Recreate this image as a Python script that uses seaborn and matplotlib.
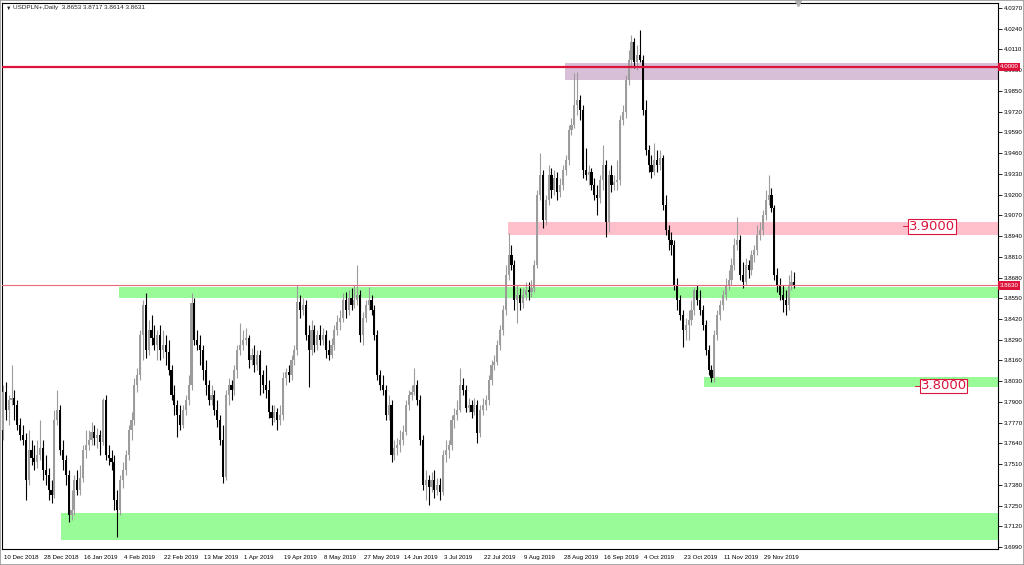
import matplotlib
matplotlib.use("Agg")
import matplotlib.pyplot as plt
import matplotlib.transforms as mtransforms
from matplotlib.patches import Rectangle
import numpy as np
import seaborn as sns

SYMBOL = "USDPLN+,Daily"

date_labels = [
    "10 Dec 2018", "28 Dec 2018", "16 Jan 2019", "4 Feb 2019", "22 Feb 2019",
    "13 Mar 2019", "1 Apr 2019", "19 Apr 2019", "8 May 2019", "27 May 2019",
    "14 Jun 2019", "3 Jul 2019", "22 Jul 2019", "9 Aug 2019", "28 Aug 2019",
    "16 Sep 2019", "4 Oct 2019", "23 Oct 2019", "11 Nov 2019", "29 Nov 2019",
]

# daily OHLC, one row of 14 bars per date label
opens = [
    3.7724, 3.7962, 3.7849, 3.7912, 3.7925, 3.7881, 3.7755, 3.7693, 3.7661, 3.7410, 3.7599, 3.7548, 3.7523, 3.7567,
    3.7611, 3.7473, 3.7442, 3.7348, 3.7316, 3.7787, 3.7849, 3.7599, 3.7536, 3.7442, 3.7191, 3.7222, 3.7410, 3.7348,
    3.7423, 3.7599, 3.7630, 3.7661, 3.7711, 3.7674, 3.7693, 3.7649, 3.7912, 3.7567, 3.7548, 3.7523, 3.7285, 3.7222,
    3.7410, 3.7473, 3.7567, 3.7724, 3.7787, 3.8006, 3.8069, 3.8320, 3.8508, 3.8226, 3.8351, 3.8301, 3.8257, 3.8320,
    3.8226, 3.8257, 3.8213, 3.8100, 3.7943, 3.7881, 3.7818, 3.7755, 3.7849, 3.7912, 3.8006, 3.8520, 3.8288, 3.8257,
    3.8226, 3.8100, 3.8006, 3.7912, 3.7943, 3.7849, 3.7787, 3.7661, 3.7429, 3.7943, 3.8006, 3.7975, 3.8100, 3.8226,
    3.8257, 3.8288, 3.8301, 3.8163, 3.8194, 3.8131, 3.8194, 3.8069, 3.8006, 3.7975, 3.7837, 3.7799, 3.7837, 3.7787,
    3.7818, 3.8050, 3.8088, 3.8069, 3.8163, 3.8226, 3.8526, 3.8476, 3.8508, 3.8320, 3.8226, 3.8351, 3.8257, 3.8320,
    3.8288, 3.8320, 3.8226, 3.8194, 3.8257, 3.8351, 3.8401, 3.8426, 3.8539, 3.8476, 3.8552, 3.8508, 3.8539, 3.8570,
    3.8320, 3.8426, 3.8508, 3.8539, 3.8476, 3.8320, 3.8069, 3.8006, 3.7975, 3.7818, 3.7881, 3.7567, 3.7611, 3.7630,
    3.7661, 3.7711, 3.7881, 3.7943, 3.7962, 3.8006, 3.7912, 3.7661, 3.7379, 3.7410, 3.7367, 3.7410, 3.7348, 3.7379,
    3.7335, 3.7567, 3.7599, 3.7630, 3.7787, 3.7818, 3.7849, 3.8006, 3.7975, 3.7862, 3.7881, 3.7837, 3.7881, 3.7705,
    3.7849, 3.7881, 3.7912, 3.8037, 3.8131, 3.8150, 3.8257, 3.8351, 3.8476, 3.8696, 3.8821, 3.8758, 3.8539, 3.8570,
    3.8520, 3.8570, 3.8602, 3.8589, 3.8614, 3.8758, 3.9197, 3.9323, 3.9041, 3.9166, 3.9323, 3.9229, 3.9304, 3.9216,
    3.9260, 3.9354, 3.9417, 3.9605, 3.9636, 3.9762, 3.9793, 3.9730, 3.9354, 3.9323, 3.9342, 3.9260, 3.9197, 3.9179,
    3.9291, 3.9385, 3.9028, 3.9323, 3.9260, 3.9279, 3.9291, 3.9668, 3.9718, 3.9918, 4.0044, 4.0157, 4.0031, 4.0075,
    4.0044, 3.9730, 3.9480, 3.9385, 3.9342, 3.9417, 3.9385, 3.9429, 3.9135, 3.8978, 3.8915, 3.8884, 3.8633, 3.8539,
    3.8445, 3.8351, 3.8382, 3.8414, 3.8476, 3.8602, 3.8539, 3.8476, 3.8382, 3.8226, 3.8100, 3.8050, 3.8320, 3.8445,
    3.8508, 3.8570, 3.8633, 3.8664, 3.8758, 3.8884, 3.8915, 3.8696, 3.8652, 3.8758, 3.8727, 3.8821, 3.8853, 3.8947,
    3.8978, 3.9072, 3.9166, 3.9197, 3.9116, 3.8696, 3.8633, 3.8570, 3.8539, 3.8508, 3.8633, 3.8653,
]
highs = [
    3.8006, 3.8025, 3.7943, 3.8131, 3.7975, 3.7912, 3.7799, 3.7755, 3.7705, 3.7724, 3.7661, 3.7630, 3.7661, 3.7787,
    3.7661, 3.7567, 3.7486, 3.7410, 3.7849, 3.7975, 3.7881, 3.7661, 3.7567, 3.7473, 3.7348, 3.7442, 3.7473, 3.7504,
    3.7630, 3.7724, 3.7724, 3.7774, 3.7755, 3.7736, 3.7724, 3.7925, 3.7943, 3.7630, 3.7599, 3.7567, 3.7348, 3.7442,
    3.7523, 3.7599, 3.7755, 3.7837, 3.8050, 3.8113, 3.8351, 3.8539, 3.8583, 3.8414, 3.8445, 3.8382, 3.8351, 3.8382,
    3.8351, 3.8320, 3.8288, 3.8131, 3.8006, 3.7912, 3.7881, 3.7881, 3.7943, 3.8069, 3.8583, 3.8552, 3.8351, 3.8320,
    3.8257, 3.8163, 3.8037, 3.8006, 3.7975, 3.7912, 3.7818, 3.7755, 3.7975, 3.8050, 3.8037, 3.8131, 3.8257, 3.8395,
    3.8351, 3.8363, 3.8320, 3.8238, 3.8257, 3.8226, 3.8226, 3.8100, 3.8131, 3.8037, 3.7881, 3.7881, 3.7862, 3.7881,
    3.8088, 3.8113, 3.8131, 3.8194, 3.8257, 3.8633, 3.8570, 3.8552, 3.8539, 3.8382, 3.8414, 3.8382, 3.8351, 3.8382,
    3.8363, 3.8351, 3.8288, 3.8301, 3.8382, 3.8445, 3.8476, 3.8583, 3.8589, 3.8602, 3.8614, 3.8633, 3.8758, 3.8602,
    3.8464, 3.8539, 3.8621, 3.8570, 3.8508, 3.8351, 3.8100, 3.8069, 3.8006, 3.7943, 3.7912, 3.7661, 3.7674, 3.7724,
    3.7755, 3.7912, 3.7975, 3.8006, 3.8113, 3.8037, 3.7943, 3.7693, 3.7473, 3.7442, 3.7461, 3.7473, 3.7423, 3.7423,
    3.7599, 3.7661, 3.7661, 3.7818, 3.7862, 3.7912, 3.8113, 3.8050, 3.8006, 3.7925, 3.7912, 3.7925, 3.7912, 3.7881,
    3.7925, 3.7943, 3.8069, 3.8163, 3.8194, 3.8288, 3.8382, 3.8508, 3.8758, 3.8959, 3.8884, 3.8790, 3.8633, 3.8614,
    3.8614, 3.8652, 3.8652, 3.8664, 3.8790, 3.9229, 3.9461, 3.9354, 3.9197, 3.9385, 3.9367, 3.9354, 3.9342, 3.9304,
    3.9385, 3.9448, 3.9636, 3.9680, 3.9962, 3.9969, 3.9824, 3.9762, 3.9492, 3.9385, 3.9367, 3.9304, 3.9260, 3.9323,
    3.9511, 3.9417, 3.9354, 3.9385, 3.9323, 3.9417, 3.9699, 3.9762, 3.9950, 4.0106, 4.0201, 4.0182, 4.0138, 4.0232,
    4.0075, 3.9793, 3.9511, 3.9448, 3.9523, 3.9480, 3.9480, 3.9448, 3.9197, 3.9009, 3.8965, 3.8915, 3.8677, 3.8570,
    3.8476, 3.8426, 3.8476, 3.8539, 3.8621, 3.8633, 3.8602, 3.8508, 3.8414, 3.8257, 3.8131, 3.8351, 3.8476, 3.8539,
    3.8602, 3.8677, 3.8727, 3.8802, 3.8928, 3.9059, 3.8947, 3.8777, 3.8802, 3.8790, 3.8853, 3.8884, 3.9009, 3.9028,
    3.9103, 3.9229, 3.9323, 3.9241, 3.9135, 3.8740, 3.8677, 3.8633, 3.8602, 3.8696, 3.8727, 3.8717,
]
lows = [
    3.7661, 3.7787, 3.7755, 3.7881, 3.7787, 3.7724, 3.7661, 3.7630, 3.7285, 3.7379, 3.7504, 3.7473, 3.7486, 3.7536,
    3.7410, 3.7379, 3.7285, 3.7266, 3.7298, 3.7755, 3.7567, 3.7473, 3.7379, 3.7147, 3.7160, 3.7191, 3.7316, 3.7316,
    3.7398, 3.7548, 3.7599, 3.7630, 3.7630, 3.7611, 3.7567, 3.7630, 3.7536, 3.7504, 3.7473, 3.7222, 3.7053, 3.7191,
    3.7360, 3.7442, 3.7536, 3.7661, 3.7755, 3.7962, 3.8037, 3.8163, 3.8175, 3.8194, 3.8257, 3.8226, 3.8163, 3.8163,
    3.8175, 3.8131, 3.8069, 3.7912, 3.7818, 3.7680, 3.7724, 3.7736, 3.7818, 3.7881, 3.7975, 3.8257, 3.8226, 3.8131,
    3.8037, 3.7943, 3.7881, 3.7881, 3.7818, 3.7743, 3.7630, 3.7392, 3.7410, 3.7881, 3.7912, 3.7943, 3.8050, 3.8194,
    3.8226, 3.8257, 3.8113, 3.8131, 3.8088, 3.8100, 3.7943, 3.7956, 3.7925, 3.7799, 3.7755, 3.7774, 3.7724, 3.7755,
    3.7787, 3.8006, 3.8025, 3.8037, 3.8131, 3.8194, 3.8426, 3.8445, 3.8288, 3.7994, 3.8194, 3.8213, 3.8226, 3.8257,
    3.8257, 3.8175, 3.8163, 3.8175, 3.8226, 3.8320, 3.8351, 3.8401, 3.8426, 3.8445, 3.8476, 3.8489, 3.8508, 3.8276,
    3.8257, 3.8401, 3.8476, 3.8445, 3.8288, 3.8037, 3.7975, 3.7943, 3.7787, 3.7787, 3.7523, 3.7536, 3.7567, 3.7586,
    3.7630, 3.7693, 3.7849, 3.7912, 3.7943, 3.7881, 3.7630, 3.7348, 3.7285, 3.7254, 3.7335, 3.7298, 3.7316, 3.7285,
    3.7316, 3.7523, 3.7548, 3.7599, 3.7736, 3.7787, 3.7837, 3.7943, 3.7837, 3.7837, 3.7799, 3.7818, 3.7642, 3.7680,
    3.7818, 3.7849, 3.7881, 3.8006, 3.8100, 3.8131, 3.8226, 3.8320, 3.8445, 3.8664, 3.8727, 3.8476, 3.8395, 3.8476,
    3.8489, 3.8539, 3.8539, 3.8558, 3.8589, 3.8740, 3.9166, 3.8990, 3.9009, 3.9135, 3.9179, 3.9197, 3.9166, 3.9185,
    3.9229, 3.9323, 3.9385, 3.9574, 3.9617, 3.9699, 3.9668, 3.9304, 3.9291, 3.9260, 3.9229, 3.9166, 3.9072, 3.9147,
    3.9229, 3.8934, 3.8965, 3.9216, 3.9229, 3.9229, 3.9260, 3.9636, 3.9680, 3.9887, 3.9994, 3.9994, 3.9981, 4.0031,
    3.9699, 3.9448, 3.9342, 3.9304, 3.9323, 3.9342, 3.9354, 3.9103, 3.8947, 3.8853, 3.8821, 3.8602, 3.8476, 3.8414,
    3.8244, 3.8288, 3.8288, 3.8382, 3.8445, 3.8508, 3.8445, 3.8351, 3.8194, 3.8069, 3.8025, 3.8025, 3.8288, 3.8414,
    3.8476, 3.8539, 3.8602, 3.8633, 3.8727, 3.8853, 3.8664, 3.8614, 3.8633, 3.8677, 3.8696, 3.8777, 3.8821, 3.8915,
    3.8947, 3.9041, 3.9135, 3.9091, 3.8664, 3.8589, 3.8539, 3.8464, 3.8445, 3.8476, 3.8602, 3.8614,
]
closes = [
    3.7962, 3.7849, 3.7912, 3.7925, 3.7881, 3.7755, 3.7693, 3.7661, 3.7410, 3.7599, 3.7548, 3.7523, 3.7567, 3.7611,
    3.7473, 3.7442, 3.7348, 3.7316, 3.7787, 3.7849, 3.7599, 3.7536, 3.7442, 3.7191, 3.7222, 3.7410, 3.7348, 3.7423,
    3.7599, 3.7630, 3.7661, 3.7711, 3.7674, 3.7693, 3.7649, 3.7912, 3.7567, 3.7548, 3.7523, 3.7285, 3.7222, 3.7410,
    3.7473, 3.7567, 3.7724, 3.7787, 3.8006, 3.8069, 3.8320, 3.8508, 3.8226, 3.8351, 3.8301, 3.8257, 3.8320, 3.8226,
    3.8257, 3.8213, 3.8100, 3.7943, 3.7881, 3.7818, 3.7755, 3.7849, 3.7912, 3.8006, 3.8520, 3.8288, 3.8257, 3.8226,
    3.8100, 3.8006, 3.7912, 3.7943, 3.7849, 3.7787, 3.7661, 3.7429, 3.7943, 3.8006, 3.7975, 3.8100, 3.8226, 3.8257,
    3.8288, 3.8301, 3.8163, 3.8194, 3.8131, 3.8194, 3.8069, 3.8006, 3.7975, 3.7837, 3.7799, 3.7837, 3.7787, 3.7818,
    3.8050, 3.8088, 3.8069, 3.8163, 3.8226, 3.8526, 3.8476, 3.8508, 3.8320, 3.8226, 3.8351, 3.8257, 3.8320, 3.8288,
    3.8320, 3.8226, 3.8194, 3.8257, 3.8351, 3.8401, 3.8426, 3.8539, 3.8476, 3.8552, 3.8508, 3.8539, 3.8570, 3.8320,
    3.8426, 3.8508, 3.8539, 3.8476, 3.8320, 3.8069, 3.8006, 3.7975, 3.7818, 3.7881, 3.7567, 3.7611, 3.7630, 3.7661,
    3.7711, 3.7881, 3.7943, 3.7962, 3.8006, 3.7912, 3.7661, 3.7379, 3.7410, 3.7367, 3.7410, 3.7348, 3.7379, 3.7335,
    3.7567, 3.7599, 3.7630, 3.7787, 3.7818, 3.7849, 3.8006, 3.7975, 3.7862, 3.7881, 3.7837, 3.7881, 3.7705, 3.7849,
    3.7881, 3.7912, 3.8037, 3.8131, 3.8150, 3.8257, 3.8351, 3.8476, 3.8696, 3.8821, 3.8758, 3.8539, 3.8570, 3.8520,
    3.8570, 3.8602, 3.8589, 3.8614, 3.8758, 3.9197, 3.9323, 3.9041, 3.9166, 3.9323, 3.9229, 3.9304, 3.9216, 3.9260,
    3.9354, 3.9417, 3.9605, 3.9636, 3.9762, 3.9793, 3.9730, 3.9354, 3.9323, 3.9342, 3.9260, 3.9197, 3.9179, 3.9291,
    3.9385, 3.9028, 3.9323, 3.9260, 3.9279, 3.9291, 3.9668, 3.9718, 3.9918, 4.0044, 4.0157, 4.0031, 4.0075, 4.0044,
    3.9730, 3.9480, 3.9385, 3.9342, 3.9417, 3.9385, 3.9429, 3.9135, 3.8978, 3.8915, 3.8884, 3.8633, 3.8539, 3.8445,
    3.8351, 3.8382, 3.8414, 3.8476, 3.8602, 3.8539, 3.8476, 3.8382, 3.8226, 3.8100, 3.8050, 3.8320, 3.8445, 3.8508,
    3.8570, 3.8633, 3.8664, 3.8758, 3.8884, 3.8915, 3.8696, 3.8652, 3.8758, 3.8727, 3.8821, 3.8853, 3.8947, 3.8978,
    3.9072, 3.9166, 3.9197, 3.9116, 3.8696, 3.8633, 3.8570, 3.8539, 3.8508, 3.8633, 3.8652, 3.8631,
]

# support / resistance boxes drawn on the chart (first bar, low, high)
zone_start = [196.7, 176.8, 40.6, 245.4, 20.3]
zone_low = [3.9918, 3.8947, 3.8552, 3.7994, 3.7034]
zone_high = [4.0025, 3.9028, 3.8621, 3.8056, 3.7204]
zone_colors = ["#d8bfd8", "#ffc0cb", "#98fb98", "#98fb98", "#98fb98"]

# horizontal levels and text marks
level_lines = [4.0000, 3.8630]
text_levels = [3.9000, 3.8000]
text_start = [316.8, 321.0]

BULL = "#9c9c9c"
BEAR = "#000000"
RED = "#dc143c"


def draw_chart(path="out.png"):
    sns.set_theme(style="white")
    plt.rcParams["font.family"] = ["Liberation Sans", "DejaVu Sans"]

    fig = plt.figure(figsize=(10.24, 5.65), dpi=100)
    fig.patch.set_facecolor("white")
    ax = fig.add_axes([2 / 1024, 16 / 565, 996 / 1024, 546 / 565])

    o, h, l, c = (np.array(v) for v in (opens, highs, lows, closes))
    x = np.arange(len(c))
    x_max = 348.3

    for start, lo, hi, col in zip(zone_start, zone_low, zone_high, zone_colors):
        ax.add_patch(Rectangle((start, lo), x_max - start, hi - lo,
                               facecolor=col, edgecolor="none", zorder=1))

    up = c >= o
    for mask, col in ((up, BULL), (~up, BEAR)):
        ax.vlines(x[mask], l[mask], h[mask], color=col, lw=0.8, zorder=3)
        body = np.maximum(np.abs(c - o)[mask], 0.0004)
        ax.bar(x[mask], body, bottom=np.minimum(o, c)[mask], width=0.75,
               color=col, edgecolor="none", zorder=4)

    ax.axhline(level_lines[0], color=RED, lw=1.6, zorder=5)
    ax.axhline(level_lines[1], color="#e8687e", lw=0.8, zorder=5)

    for lvl, x0 in zip(text_levels, text_start):
        ax.plot([x0 - 1.8, x0], [lvl, lvl], color=RED, lw=0.7, zorder=6)
        ax.text(x0 + 0.2, lvl, f"{lvl:.4f}", color=RED, fontsize=9.5,
                family=["DejaVu Sans"], va="center", ha="left", zorder=7,
                bbox=dict(boxstyle="square,pad=0.06", fc="white", ec=RED, lw=0.8))

    ax.set_xlim(-0.35, x_max)
    ax.set_ylim(3.6978, 4.0401)

    yticks = np.round(np.arange(3.6990, 4.0371, 0.013), 4)
    ax.set_yticks(yticks)
    ax.set_yticklabels([f"{t:.4f}" for t in yticks])
    ax.yaxis.tick_right()
    ax.set_xticks(np.arange(len(date_labels)) * 14)
    ax.set_xticklabels(date_labels)
    ax.tick_params(axis="both", direction="out", length=3, width=0.6,
                   labelsize=4.4, colors="black", pad=1.2)
    plt.setp(ax.get_xticklabels(), ha="left")
    for lab in ax.get_xticklabels():
        lab.set_transform(lab.get_transform() + mtransforms.ScaledTranslation(1 / 100, 0, fig.dpi_scale_trans))

    for side in ("left", "right", "top", "bottom"):
        ax.spines[side].set_color("black")
        ax.spines[side].set_linewidth(0.8)
    ax.grid(False)

    trans = mtransforms.blended_transform_factory(ax.transAxes, ax.transData)
    for lvl in level_lines:
        ax.text(1.002, lvl, f"{lvl:.4f}", transform=trans, color="white",
                fontsize=4.4, va="center", ha="left", zorder=8, clip_on=False,
                bbox=dict(boxstyle="square,pad=0.25", fc=RED, ec="none"))

    # chart shift marker at the top
    ax.plot([x_max * 0.7985 + 0.3], [4.0401], marker="v", ms=4, color="#b0b0b0",
            clip_on=False, zorder=8)

    fig.text(6 / 1024, 1 - 8 / 565, "\u25bc", fontsize=4, va="center", ha="left")
    fig.text(13 / 1024, 1 - 8 / 565,
             f"{SYMBOL}  {opens[-1]:.4f} {highs[-1]:.4f} {lows[-1]:.4f} {closes[-1]:.4f}",
             fontsize=4.6, va="center", ha="left")

    fig.patches.append(Rectangle((0, 0), 1, 1, transform=fig.transFigure,
                                 fill=False, edgecolor="#9a9a9a", lw=1.2))

    fig.savefig(path, dpi=100)
    plt.close(fig)


if __name__ == "__main__":
    draw_chart()
